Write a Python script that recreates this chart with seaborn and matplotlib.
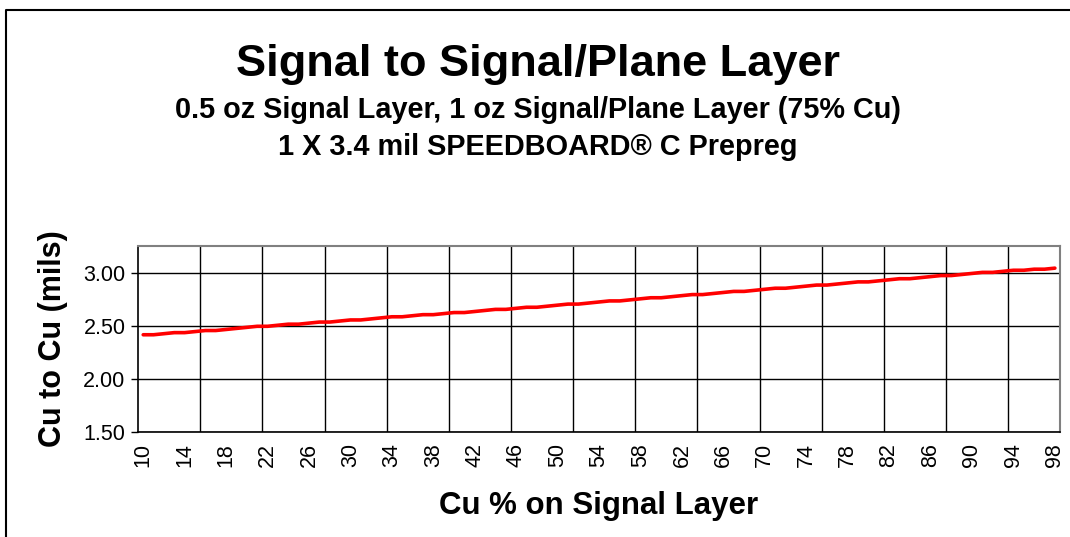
import numpy as np
import pandas as pd
import matplotlib
matplotlib.use("Agg")
import matplotlib.pyplot as plt
from matplotlib.lines import Line2D
import seaborn as sns

# Cu % on signal layer (categories) and Cu-to-Cu thickness (mils)
cu_pct = list(range(10, 99))
cu_to_cu = [
    2.42, 2.42, 2.43, 2.44, 2.44, 2.45, 2.46, 2.46, 2.47, 2.48,
    2.49, 2.50, 2.50, 2.51, 2.52, 2.52, 2.53, 2.54, 2.54, 2.55,
    2.56, 2.56, 2.57, 2.58, 2.59, 2.59, 2.60, 2.61, 2.61, 2.62,
    2.63, 2.63, 2.64, 2.65, 2.66, 2.66, 2.67, 2.68, 2.68, 2.69,
    2.70, 2.71, 2.71, 2.72, 2.73, 2.74, 2.74, 2.75, 2.76, 2.77,
    2.77, 2.78, 2.79, 2.80, 2.80, 2.81, 2.82, 2.83, 2.83, 2.84,
    2.85, 2.86, 2.86, 2.87, 2.88, 2.89, 2.89, 2.90, 2.91, 2.92,
    2.92, 2.93, 2.94, 2.95, 2.95, 2.96, 2.97, 2.98, 2.98, 2.99,
    3.00, 3.01, 3.01, 3.02, 3.03, 3.03, 3.04, 3.04, 3.05,
]
x_labels = list(range(10, 99, 4))
y_ticks = [1.50, 2.00, 2.50, 3.00]

df = pd.DataFrame({"cu_pct": cu_pct, "cu_to_cu": cu_to_cu})

sns.set_style("white")
plt.rcParams["font.family"] = ["Liberation Sans", "DejaVu Sans"]
plt.rcParams["text.color"] = "black"
plt.rcParams["axes.labelcolor"] = "black"
plt.rcParams["xtick.color"] = "black"
plt.rcParams["ytick.color"] = "black"

fig = plt.figure(figsize=(10.70, 5.37), dpi=100)
ax = fig.add_axes([0.129, 0.1955, 0.8617, 0.3465])

sns.lineplot(data=df, x="cu_pct", y="cu_to_cu", color="#ff0000", linewidth=2.6, ax=ax)

ax.set_xlim(9.5, 98.5)
ax.set_ylim(1.5, 3.26)
ax.set_yticks(y_ticks)
ax.set_yticklabels([f"{v:.2f}" for v in y_ticks], fontsize=15.5)
ax.set_xticks(x_labels)
ax.set_xticklabels([str(v) for v in x_labels], rotation=90, fontsize=15.5)
ax.set_xticks(np.arange(15.5, 98, 6), minor=True)

ax.grid(False)
ax.yaxis.grid(True, color="black", linewidth=1)
ax.xaxis.grid(True, which="minor", color="black", linewidth=1)
ax.tick_params(axis="x", which="major", length=0, pad=8)
ax.tick_params(axis="x", which="minor", length=0)
ax.tick_params(axis="y", length=5, width=1, color="black", left=True, pad=4)

for side in ["left", "bottom"]:
    ax.spines[side].set_color("black")
    ax.spines[side].set_linewidth(1.2)
for side in ["top", "right"]:
    ax.spines[side].set_color("#808080")
    ax.spines[side].set_linewidth(1.5)

ax.set_xlabel("Cu % on Signal Layer", fontsize=22.5, fontweight="bold", labelpad=17)
ax.set_ylabel("Cu to Cu (mils)", fontsize=22, fontweight="bold", labelpad=11)

fig.text(0.503, 0.880, "Signal to Signal/Plane Layer", ha="center", va="center",
         fontsize=32.5, fontweight="bold")
fig.text(0.503, 0.796, "0.5 oz Signal Layer, 1 oz Signal/Plane Layer (75% Cu)",
         ha="center", va="center", fontsize=20.8, fontweight="bold")
fig.text(0.503, 0.727, "1 X 3.4 mil SPEEDBOARD® C Prepreg",
         ha="center", va="center", fontsize=20.8, fontweight="bold")

# outer chart frame (left and top edges)
fx = 6 / 1070
fy = 1 - 10 / 537
fig.add_artist(Line2D([fx, fx, 1.0], [0.0, fy, fy], transform=fig.transFigure,
                      color="black", linewidth=1.5))

fig.savefig("out.png", dpi=100, facecolor="white")
